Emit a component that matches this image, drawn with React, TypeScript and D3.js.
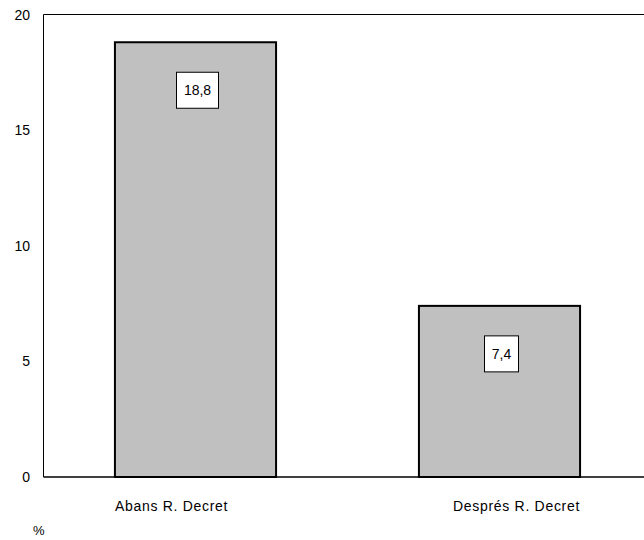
import React from "react";
import * as d3 from "d3";

const categories = ["Abans R. Decret", "Després R. Decret"];
const values = [18.8, 7.4];
const valueLabels = ["18,8", "7,4"];
const yTicks = [0, 5, 10, 15, 20];
const unitLabel = "%";

export default function App() {
  const W = 644, H = 540;
  const left = 43.5, top = 14.5, bottom = 477, right = 651.5;
  const x = d3.scaleBand<string>().domain(categories).range([left, right]).paddingInner(0.47).paddingOuter(0.235);
  const y = d3.scaleLinear().domain([0, 20]).range([bottom, top]);
  const labelShift = [-24, 17];
  const font = "'Liberation Sans', Arial, sans-serif";
  return (
    <svg width={W} height={H} style={{ position: "absolute", left: 0, top: 0, background: "#fff" }} fontFamily={font}>
      <rect x={0} y={0} width={W} height={H} fill="#fff" />
      <line x1={left} x2={W} y1={top} y2={top} stroke="#000" strokeWidth={1} />
      <line x1={left} x2={left} y1={top} y2={bottom} stroke="#000" strokeWidth={1} />
      {yTicks.map((t) => (
        <text key={t} x={30} y={y(t)} textAnchor="end" dominantBaseline="central" fontSize={14} fill="#000">
          {t}
        </text>
      ))}
      {categories.map((c, i) => {
        const bx = x(c)!;
        const bw = x.bandwidth();
        const by = y(values[i]);
        const cx = bx + bw / 2;
        const boxW = valueLabels[i].length > 3 ? 42 : 34;
        return (
          <g key={c}>
            <rect x={bx} y={by} width={bw} height={bottom - by} fill="#c0c0c0" stroke="#000" strokeWidth={2} />
            <rect x={cx - boxW / 2 + (i === 0 ? 2 : 2)} y={by + 30} width={boxW} height={36} fill="#fff" stroke="#000" strokeWidth={1} />
            <text x={cx + 2} y={by + 48} textAnchor="middle" dominantBaseline="central" fontSize={14} fill="#000">
              {valueLabels[i]}
            </text>
            <text x={cx + labelShift[i]} y={511} textAnchor="middle" fontSize={14} letterSpacing={0.7} fill="#000">
              {c}
            </text>
          </g>
        );
      })}
      <line x1={left} x2={W} y1={bottom} y2={bottom} stroke="#000" strokeWidth={1.5} />
      <text x={33} y={535} fontSize={13} fill="#000">{unitLabel}</text>
    </svg>
  );
}
